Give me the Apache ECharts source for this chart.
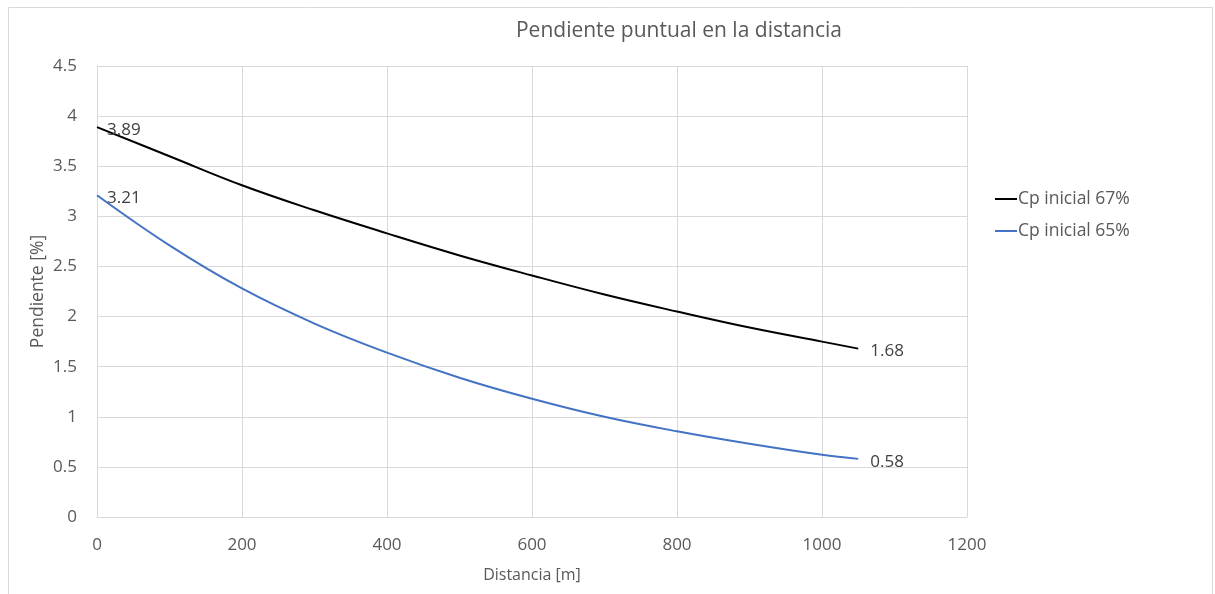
<!DOCTYPE html>
<html>
<head>
<meta charset="utf-8">
<script src="https://cdn.jsdelivr.net/npm/echarts@6/dist/echarts.min.js"></script>
<style>
  html, body { margin: 0; padding: 0; background: #fff; }
  #chart { width: 1215px; height: 594px; }
</style>
</head>
<body>
<div id="chart"></div>
<script>
// distance [m] and slope [%]
var distances = [0, 100, 200, 300, 400, 500, 600, 700, 800, 900, 1000, 1050];
var cp67 = [3.89, 3.60, 3.31, 3.06, 2.83, 2.61, 2.41, 2.22, 2.05, 1.89, 1.75, 1.68];
var cp65 = [3.21, 2.71, 2.28, 1.93, 1.64, 1.39, 1.18, 1.00, 0.855, 0.73, 0.62, 0.58];
var seriesNames = ['Cp inicial 67%', 'Cp inicial 65%'];
var seriesColors = ['#000000', '#4472C4'];

var font = '"Open Sans", "Liberation Sans", sans-serif';
var textColor = '#595959';

// only first and last point get a label
function buildData(values) {
  return values.map(function (v, i) {
    var item = { value: [distances[i], v] };
    if (i === 0 || i === values.length - 1) {
      item.label = {
        show: true,
        position: 'right',
        distance: i === 0 ? 10 : 12,
        offset: [0, 3],
        formatter: function (p) { return p.value[1].toFixed(2); }
      };
    }
    return item;
  });
}

var chartDom = document.getElementById('chart');
var myChart = echarts.init(chartDom);

var option = {
  animation: false,
  textStyle: { fontFamily: font },
  title: {
    text: 'Pendiente puntual en la distancia',
    left: 674,
    top: 16,
    textAlign: 'center',
    textStyle: { fontFamily: font, fontSize: 21, fontWeight: 'normal', color: textColor }
  },
  legend: {
    orient: 'vertical',
    left: 990,
    top: 185,
    itemWidth: 22,
    itemHeight: 2,
    itemGap: 14,
    icon: 'rect',
    textStyle: { fontFamily: font, fontSize: 17.5, color: textColor, padding: [0, 0, 0, -4] },
    data: seriesNames
  },
  grid: { left: 97, right: 248, top: 66, bottom: 77 },
  xAxis: {
    type: 'value',
    min: 0,
    max: 1200,
    interval: 200,
    name: 'Distancia [m]',
    nameLocation: 'middle',
    nameGap: 50,
    nameTextStyle: { fontFamily: font, fontSize: 16, color: textColor },
    axisLine: { show: true, lineStyle: { color: '#d9d9d9' } },
    axisTick: { show: false },
    axisLabel: { fontFamily: font, fontSize: 17, color: textColor, margin: 20, formatter: function (v) { return String(v); } },
    splitLine: { show: true, lineStyle: { color: '#d9d9d9' } }
  },
  yAxis: {
    type: 'value',
    min: 0,
    max: 4.5,
    interval: 0.5,
    name: 'Pendiente [%]',
    nameLocation: 'middle',
    nameGap: 50,
    nameMoveOverlap: false,
    nameTextStyle: { fontFamily: font, fontSize: 17.5, color: textColor },
    axisLine: { show: true, lineStyle: { color: '#d9d9d9' } },
    axisTick: { show: false },
    axisLabel: { fontFamily: font, fontSize: 17, color: textColor, margin: 20 },
    splitLine: { show: true, lineStyle: { color: '#d9d9d9' } }
  },
  graphic: [{
    type: 'rect',
    shape: { x: 8.5, y: 7.5, width: 1204, height: 590 },
    style: { fill: 'none', stroke: '#d9d9d9', lineWidth: 1 },
    silent: true
  }],
  series: [{
    name: seriesNames[0],
    type: 'line',
    smooth: 0.4,
    showSymbol: true,
    symbol: 'circle',
    symbolSize: 0,
    data: buildData(cp67),
    lineStyle: { color: seriesColors[0], width: 2 },
    itemStyle: { color: seriesColors[0] },
    label: { fontFamily: font, fontSize: 17, color: '#404040' }
  }, {
    name: seriesNames[1],
    type: 'line',
    smooth: 0.4,
    showSymbol: true,
    symbol: 'circle',
    symbolSize: 0,
    data: buildData(cp65),
    lineStyle: { color: seriesColors[1], width: 2 },
    itemStyle: { color: seriesColors[1] },
    label: { fontFamily: font, fontSize: 17, color: '#404040' }
  }]
};

option && myChart.setOption(option);
</script>
</body>
</html>
